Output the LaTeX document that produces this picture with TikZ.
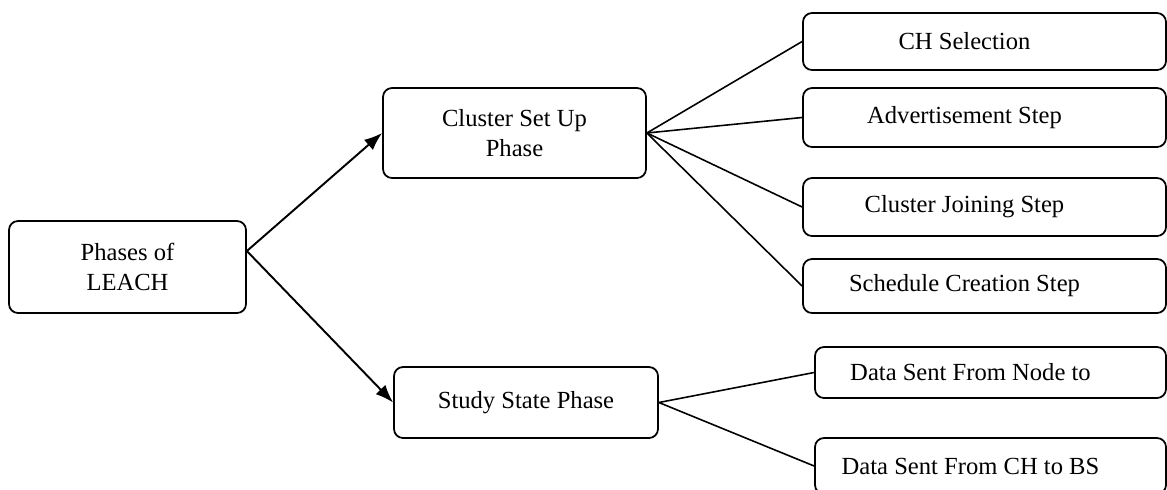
\documentclass[tikz,border=0pt]{standalone}
\usepackage{fontspec}
\setmainfont{Liberation Serif}
\usetikzlibrary{arrows.meta}
\tikzstyle{phase}=[rectangle,rounded corners=0.18cm,draw=black,
  line width=1 pt,align=center,font=\fontsize{14}{17}\selectfont]
\tikzstyle{stepbox}=[rectangle,rounded corners=0.18cm,draw=black,
  line width=1 pt,minimum width=7.26cm,minimum height=1.16cm,
  font=\fontsize{14}{17}\selectfont,execute at begin node={\hspace*{-0.8cm}}]
\tikzstyle{flow}=[-{Latex[length=0.36cm,width=0.27cm]},line width=1.1 pt]
\tikzstyle{link}=[line width=0.9 pt]

\begin{document}
\begin{tikzpicture}
    \useasboundingbox (0,0) rectangle (23.34,-9.78);
    \node [style=phase,minimum width=4.74cm,minimum height=1.84cm] (leach) at (2.55,-5.34) {Phases of\\LEACH};
    \node [style=phase,minimum width=5.26cm,minimum height=1.8cm] (setup) at (10.29,-2.66) {Cluster Set Up\\Phase};
    \node [style=phase,minimum width=5.28cm,minimum height=1.42cm] (steady) at (10.52,-8.05) {Study State Phase};
    \node [style=stepbox,minimum height=1.14cm] (chsel) at (19.69,-0.83) {CH Selection};
    \node [style=stepbox,minimum height=1.18cm] (advert) at (19.69,-2.35) {Advertisement Step};
    \node [style=stepbox] (join) at (19.69,-4.14) {Cluster Joining Step};
    \node [style=stepbox,minimum height=1.08cm] (sched) at (19.69,-5.72) {Schedule Creation Step};
    \node [style=stepbox,minimum width=7.02cm,minimum height=1.02cm] (tonode) at (19.81,-7.45) {Data Sent From Node to};
    \node [style=stepbox,minimum width=7.02cm,minimum height=1.12cm] (tobs) at (19.81,-9.32) {Data Sent From CH to BS};
    \coordinate (fork) at ([yshift=0.32cm]leach.east);
    \draw [style=flow] (fork) to (setup.west);
    \draw [style=flow] (fork) to (steady.west);
    \draw [style=link] (setup.east) to (chsel.west);
    \draw [style=link] (setup.east) to (advert.west);
    \draw [style=link] (setup.east) to (join.west);
    \draw [style=link] (setup.east) to (sched.west);
    \draw [style=link] (steady.east) to (tonode.west);
    \draw [style=link] (steady.east) to (tobs.west);
  \end{tikzpicture}
\end{document}
